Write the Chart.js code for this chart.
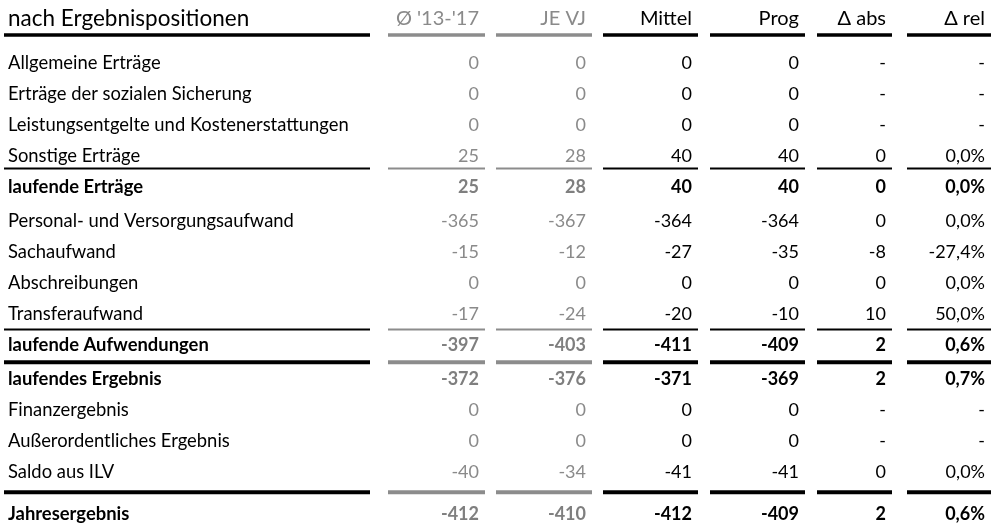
<!DOCTYPE html>
<html>
<head>
<meta charset="utf-8">
<script src="https://cdn.jsdelivr.net/npm/chart.js@4.4.1/dist/chart.umd.min.js"></script>
<style>
  html, body { margin: 0; padding: 0; background: #fff; }
  #wrap { width: 991px; height: 528px; }
</style>
</head>
<body>
<div id="wrap"><canvas id="table-chart" width="991" height="528"></canvas></div>
<script>
// Table values
const headerTitle = 'nach Ergebnispositionen';
const columnHeaders = ["Ø '13-'17", 'JE VJ', 'Mittel', 'Prog', 'Δ abs', 'Δ rel'];
const rowLabels = [
    'Allgemeine Erträge',
    'Erträge der sozialen Sicherung',
    'Leistungsentgelte und Kostenerstattungen',
    'Sonstige Erträge',
    'laufende Erträge',
    'Personal- und Versorgungsaufwand',
    'Sachaufwand',
    'Abschreibungen',
    'Transferaufwand',
    'laufende Aufwendungen',
    'laufendes Ergebnis',
    'Finanzergebnis',
    'Außerordentliches Ergebnis',
    'Saldo aus ILV',
    'Jahresergebnis'
];
const avg1317  = [0, 0, 0, 25, 25, -365, -15, 0, -17, -397, -372, 0, 0, -40, -412];
const jeVj     = [0, 0, 0, 28, 28, -367, -12, 0, -24, -403, -376, 0, 0, -34, -410];
const mittel   = [0, 0, 0, 40, 40, -364, -27, 0, -20, -411, -371, 0, 0, -41, -412];
const prog     = [0, 0, 0, 40, 40, -364, -35, 0, -10, -409, -369, 0, 0, -41, -409];
const deltaAbs = [null, null, null, 0, 0, 0, -8, 0, 10, 2, 2, null, null, 0, 2];
const deltaRel = [null, null, null, 0.0, 0.0, 0.0, -27.4, 0.0, 50.0, 0.6, 0.7, null, null, 0.0, 0.6];
const boldRows = [4, 9, 10, 14];
// separators: drawn below these rows; -1 = below the header
const separatorRows = [-1, 3, 8, 9, 13];
const separatorKinds = ['header', 'thin', 'thin', 'thick', 'thick'];

// Layout (table units: x in px across the table, y in row heights)
const ROW_H = 31;
const TOP_OFFSET = 63;
const ROW_POS = [0, 1, 2, 3, 4, 5.1, 6.1, 7.1, 8.1, 9.1, 10.2, 11.2, 12.2, 13.2, 14.55];
const HEADER_POS = -1.42;
const SEP_POS = [-0.9, 3.4, 8.6, 9.65, 13.85];
const SEP_WIDTH = { header: 3.5, thin: 2, thick: 4 };
const LABEL_X = 8;
const LABEL_SEG = [4, 370];
const COL_LEFT = [388, 496, 603, 710, 817, 907];
const COL_RIGHT = [485, 592, 698, 805, 892, 991];
const GRAY_COLS = [0, 1];
const TEXT_PAD = 6;

const FONT = 'Lato, "Open Sans", sans-serif';
const GRAY = '#8a8a8a';
const GRAY_BOLD = '#7f7f7f';
const GRAY_LINE = '#8c8c8c';

function fmtNum(v) {
    if (v === null) return '-';
    return String(v);
}
function fmtPct(v) {
    if (v === null) return '-';
    return v.toFixed(1).replace('.', ',') + '%';
}

const valueColumns = [
    avg1317.map(fmtNum),
    jeVj.map(fmtNum),
    mittel.map(fmtNum),
    prog.map(fmtNum),
    deltaAbs.map(fmtNum),
    deltaRel.map(fmtPct)
];

const datasets = [];

// Separator segments as short line datasets
separatorRows.forEach((r, si) => {
    const kind = separatorKinds[si];
    const y = SEP_POS[si];
    const segs = [{ l: LABEL_SEG[0], r: LABEL_SEG[1], gray: false }];
    COL_LEFT.forEach((l, c) => segs.push({ l, r: COL_RIGHT[c], gray: GRAY_COLS.includes(c) }));
    segs.forEach(s => {
        datasets.push({
            type: 'line',
            data: [{ x: s.l, y }, { x: s.r, y }],
            borderColor: s.gray ? GRAY_LINE : '#000',
            borderWidth: SEP_WIDTH[kind],
            pointRadius: 0,
            showLine: true,
            fill: false,
            tension: 0
        });
    });
});

// Header row
datasets.push({
    data: [{ x: LABEL_X, y: HEADER_POS }],
    texts: [headerTitle],
    align: 'left',
    size: 22.5,
    colors: ['#000'],
    pointRadius: 0
});
columnHeaders.forEach((h, c) => {
    datasets.push({
        data: [{ x: COL_RIGHT[c] - TEXT_PAD, y: HEADER_POS }],
        texts: [h],
        align: 'right',
        size: 20,
        colors: [GRAY_COLS.includes(c) ? GRAY : '#000'],
        pointRadius: 0
    });
});

// Row labels
datasets.push({
    data: rowLabels.map((_, i) => ({ x: LABEL_X, y: ROW_POS[i] })),
    texts: rowLabels,
    align: 'left',
    size: 18.4,
    colors: rowLabels.map(() => '#000'),
    pointRadius: 0
});

// Value columns
valueColumns.forEach((vals, c) => {
    const gray = GRAY_COLS.includes(c);
    datasets.push({
        data: vals.map((_, i) => ({ x: COL_RIGHT[c] - TEXT_PAD, y: ROW_POS[i] })),
        texts: vals,
        align: 'right',
        size: 18,
        colors: vals.map((_, i) => gray ? (boldRows.includes(i) ? GRAY_BOLD : GRAY) : '#000'),
        pointRadius: 0
    });
});

// Draw the cell texts at the points placed by the scales
const cellTextPlugin = {
    id: 'cellText',
    afterDatasetsDraw(chart) {
        const ctx = chart.ctx;
        chart.data.datasets.forEach((ds, di) => {
            if (!ds.texts) return;
            const meta = chart.getDatasetMeta(di);
            meta.data.forEach((pt, i) => {
                const isRow = ds.texts.length === rowLabels.length;
                const bold = isRow && boldRows.includes(i);
                ctx.save();
                ctx.font = (bold ? 'bold ' : '') + ds.size + 'px ' + FONT;
                ctx.fillStyle = ds.colors[i];
                ctx.textAlign = ds.align;
                ctx.textBaseline = 'middle';
                ctx.fillText(ds.texts[i], pt.x, pt.y);
                ctx.restore();
            });
        });
    }
};

const yMin = -TOP_OFFSET / ROW_H;
const yMax = yMin + 528 / ROW_H;

new Chart(document.getElementById('table-chart').getContext('2d'), {
    type: 'scatter',
    data: { datasets },
    options: {
        responsive: false,
        animation: false,
        devicePixelRatio: 1,
        events: [],
        layout: { padding: 0 },
        plugins: {
            legend: { display: false },
            tooltip: { enabled: false },
            title: { display: false }
        },
        scales: {
            x: { type: 'linear', display: false, min: 0, max: 991 },
            y: { type: 'linear', display: false, reverse: true, min: yMin, max: yMax }
        }
    },
    plugins: [cellTextPlugin]
});
</script>
</body>
</html>
